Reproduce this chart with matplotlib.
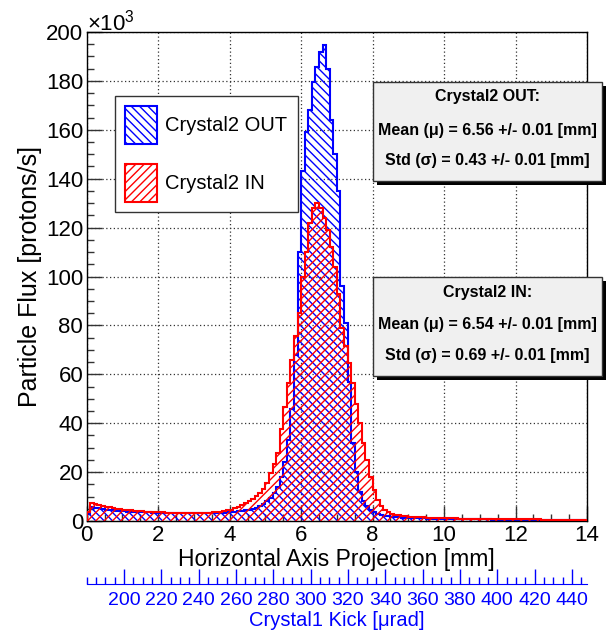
import matplotlib
matplotlib.use('Agg')
import matplotlib.pyplot as plt
import numpy as np
from matplotlib.patches import Rectangle

plt.rcParams['font.family'] = ['Liberation Sans', 'DejaVu Sans']
plt.rcParams['mathtext.fontset'] = 'custom'
plt.rcParams['mathtext.rm'] = 'Liberation Sans'
plt.rcParams['hatch.linewidth'] = 1.0

# Histogram binning: 140 bins of 0.1 mm from 0 to 14 mm
x_min, x_max, n_bins = 0.0, 14.0, 140
edges = np.linspace(x_min, x_max, n_bins + 1)

# Particle flux per bin, in units of 10^3 protons/s
flux_out = [
    3.0, 5.8, 5.5, 5.2, 4.9, 4.7, 4.5, 4.3, 4.1, 4.0,
    3.9, 3.8, 3.7, 3.7, 3.6, 3.6, 3.5, 3.5, 3.4, 3.4,
    3.4, 3.3, 3.3, 3.3, 3.2, 3.2, 3.2, 3.1, 3.1, 3.1,
    3.1, 3.1, 3.1, 3.1, 3.2, 3.2, 3.2, 3.3, 3.4, 3.5,
    3.7, 3.8, 4.0, 4.2, 4.4, 4.7, 5.0, 5.5, 6.1, 6.9,
    8.0, 9.4, 11.3, 13.8, 18.0, 24.0, 33.0, 46.0, 68.0, 110.0,
    143.0, 159.0, 168.0, 179.5, 185.5, 192.0, 194.5, 185.0, 164.0, 150.0,
    135.0, 96.0, 81.0, 57.0, 32.0, 20.0, 12.0, 8.0, 6.0, 4.6,
    3.6, 2.9, 2.4, 2.1, 1.9, 1.7, 1.6, 1.5, 1.4, 1.3,
    1.25, 1.2, 1.15, 1.1, 1.05, 1.0, 1.0, 0.95, 0.9, 0.9,
    0.85, 0.85, 0.8, 0.8, 0.8, 0.75, 0.75, 0.7, 0.7, 0.7,
    0.65, 0.65, 0.65, 0.6, 0.6, 0.6, 0.6, 0.55, 0.55, 0.55,
    0.55, 0.5, 0.5, 0.5, 0.5, 0.5, 0.45, 0.45, 0.45, 0.45,
    0.45, 0.4, 0.4, 0.4, 0.4, 0.4, 0.4, 0.35, 0.35, 0.35,
]
flux_in = [
    3.5, 7.4, 7.0, 6.6, 6.2, 5.9, 5.6, 5.3, 5.0, 4.8,
    4.6, 4.4, 4.3, 4.1, 4.0, 3.9, 3.8, 3.7, 3.6, 3.6,
    3.5, 3.5, 3.4, 3.4, 3.4, 3.3, 3.3, 3.3, 3.2, 3.2,
    3.2, 3.2, 3.3, 3.3, 3.4, 3.5, 3.6, 3.8, 4.0, 4.3,
    4.7, 5.2, 5.8, 6.4, 7.2, 8.1, 9.2, 10.3, 11.5, 13.2,
    15.5, 19.5, 23.5, 28.0, 37.5, 46.5, 56.5, 66.0, 75.5, 85.0,
    100.0, 110.0, 122.0, 128.0, 130.0, 128.0, 124.0, 119.0, 112.0, 104.0,
    93.0, 79.0, 71.5, 64.5, 56.5, 48.0, 40.0, 32.0, 25.0, 18.0,
    12.7, 8.6, 6.2, 4.6, 3.6, 3.0, 2.6, 2.3, 2.1, 1.9,
    1.8, 1.7, 1.6, 1.5, 1.45, 1.4, 1.35, 1.3, 1.25, 1.2,
    1.15, 1.1, 1.1, 1.05, 1.0, 1.0, 0.95, 0.95, 0.9, 0.9,
    0.85, 0.85, 0.85, 0.8, 0.8, 0.8, 0.75, 0.75, 0.75, 0.7,
    0.7, 0.7, 0.7, 0.65, 0.65, 0.65, 0.65, 0.6, 0.6, 0.6,
    0.6, 0.6, 0.55, 0.55, 0.55, 0.55, 0.55, 0.5, 0.5, 0.5,
]

series_labels = ['Crystal2 OUT', 'Crystal2 IN']
stats_out = ['Crystal2 OUT:', 'Mean (μ) = 6.56 +/- 0.01 [mm]', 'Std (σ) = 0.43 +/- 0.01 [mm]']
stats_in = ['Crystal2 IN:', 'Mean (μ) = 6.54 +/- 0.01 [mm]', 'Std (σ) = 0.69 +/- 0.01 [mm]']

# Kick angle of Crystal1 versus horizontal position
kick_offset, kick_slope = 180.0, 19.15  # µrad, µrad/mm

W, H = 611, 633
fig = plt.figure(figsize=(W / 100, H / 100), dpi=100)
ax = fig.add_axes([86.7 / W, 1 - 521 / H, 500.3 / W, 489 / H])

h_out = ax.stairs(flux_out, edges, fill=True, facecolor='none', edgecolor='#0000ff',
                  hatch='\\\\\\\\', linewidth=1.5, label=series_labels[0], zorder=2)
h_in = ax.stairs(flux_in, edges, fill=True, facecolor='none', edgecolor='#ff0000',
                 hatch='////', linewidth=1.5, label=series_labels[1], zorder=3)

ax.set_xlim(x_min, x_max)
ax.set_ylim(0, 200)
ax.set_xticks(np.arange(0, 15, 2))
ax.set_xticks(np.arange(0, 14.01, 0.5), minor=True)
ax.set_yticks(np.arange(0, 201, 20))
ax.set_yticks(np.arange(0, 201, 5), minor=True)
ax.tick_params(which='both', direction='in', top=False, right=False, color='#333333', width=1)
ax.tick_params(which='major', length=11, labelsize=16)
ax.tick_params(which='minor', length=5)
ax.tick_params(axis='x', pad=3)
ax.tick_params(axis='y', pad=2.5)
ax.grid(True, which='major', color='#333333', linestyle=(0, (1, 2)), linewidth=0.9)
ax.set_axisbelow(True)
for s in ax.spines.values():
    s.set_linewidth(1)
    s.set_color('black')

ax.set_xlabel('Horizontal Axis Projection [mm]', fontsize=16.5, va='top')
ax.xaxis.set_label_coords(0.5, -0.055)
ax.set_ylabel('Particle Flux [protons/s]', fontsize=18)
ax.yaxis.set_label_coords(-0.09, 0.5)

fig.text(87 / W, 1 - 30 / H, '×10$^{3}$', fontsize=16, ha='left', va='baseline')

# secondary axis: Crystal1 kick
sec = ax.secondary_xaxis(-63 / 489, functions=(lambda x: kick_offset + kick_slope * x,
                                               lambda k: (k - kick_offset) / kick_slope))
sec.set_xticks(np.arange(200, 441, 20))
sec.set_xticks(np.arange(180, 450, 5), minor=True)
sec.tick_params(which='both', direction='in', color='#0000ff', labelcolor='#0000ff', width=1)
sec.tick_params(which='major', length=11, labelsize=14, pad=6)
sec.tick_params(which='minor', length=5)
sec.spines['bottom'].set_color('#0000ff')
sec.set_xlabel('Crystal1 Kick [μrad]', color='#0000ff', fontsize=14.5, labelpad=1)

leg = ax.legend(handles=[h_out, h_in], loc='upper left', bbox_to_anchor=(115 / W, 1 - 96 / H),
                bbox_transform=fig.transFigure, fontsize=14.5, frameon=True, fancybox=False,
                edgecolor='#333333', framealpha=1, handlelength=1.6, handleheight=2.5,
                labelspacing=1.0, borderpad=0.5, borderaxespad=0, handletextpad=0.4)
leg.get_frame().set_linewidth(1)
leg.set_zorder(5)


def stat_box(top, lines):
    x0, x1, y0, y1 = 373, 602, top, top + 99
    fig.patches.append(Rectangle(((x0 + 4) / W, 1 - (y1 + 4) / H), (x1 - x0) / W, (y1 - y0) / H,
                                 transform=fig.transFigure, facecolor='black', edgecolor='none',
                                 zorder=6))
    fig.patches.append(Rectangle((x0 / W, 1 - y1 / H), (x1 - x0) / W, (y1 - y0) / H,
                                 transform=fig.transFigure, facecolor='#f0f0f0',
                                 edgecolor='#333333', linewidth=1, zorder=7))
    for txt, dy in zip(lines, [15, 48, 78]):
        fig.text((x0 + x1) / 2 / W, 1 - (y0 + dy) / H, txt, fontsize=11.5, fontweight='bold',
                 ha='center', va='center', zorder=8)


stat_box(82, stats_out)
stat_box(277, stats_in)

fig.savefig('out.png', dpi=100)
